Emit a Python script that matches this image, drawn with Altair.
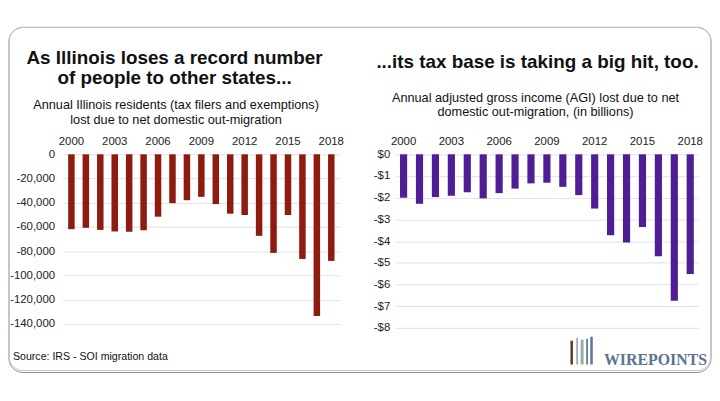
import altair as alt
import pandas as pd

# ---- data ----
years = list(range(2000, 2019))
residents_lost = [-61800, -60700, -62400, -63700, -64000, -62700, -51500, -40300,
                  -37900, -35100, -41100, -49000, -50100, -67300, -81400, -50100,
                  -86400, -133500, -88000]
agi_lost = [-2.00, -2.28, -1.97, -1.91, -1.75, -2.03, -1.79, -1.58, -1.34, -1.31,
            -1.50, -1.88, -2.50, -3.73, -4.07, -3.35, -4.70, -6.75, -5.52]
year_ticks = [2000, 2003, 2006, 2009, 2012, 2015, 2018]
resident_ticks = list(range(-140000, 1, 20000))
agi_ticks = list(range(-8, 1))

left_title = ["As Illinois loses a record number", "of people to other states..."]
left_sub = ["Annual Illinois residents (tax filers and exemptions)",
            "lost due to net domestic out-migration"]
right_title = "...its tax base is taking a big hit, too."
right_sub = ["Annual adjusted gross income (AGI) lost due to net",
             "domestic out-migration, (in billions)"]
source_text = "Source: IRS - SOI migration data"
logo_text = "WIREPOINTS"

df_l = pd.DataFrame({"year": years, "value": residents_lost})
df_r = pd.DataFrame({"year": years, "value": agi_lost})

FONT = "Liberation Sans"
LW, LH = 280, 171
RW, RH = 305, 175
one = alt.Data(values=[{}])


def txt(s, x, y, size, weight="normal", align="center", color="#111", font=FONT):
    return alt.Chart(one).mark_text(
        font=font, fontSize=size, fontWeight=weight, align=align,
        baseline="alphabetic", color=color
    ).encode(x=alt.value(x), y=alt.value(y), text=alt.value(s))


def xaxis():
    return alt.Axis(orient="top", values=year_ticks, labelAngle=0, domain=False,
                    ticks=False, labelPadding=8, labelFontSize=11.5, labelColor="#222",
                    labelFont=FONT, title=None, grid=False)


def yaxis(values, expr, pad):
    return alt.Axis(values=values, labelExpr=expr, domain=False, ticks=False,
                    gridColor="#e2e2e2", labelPadding=pad, labelFontSize=11.5,
                    labelColor="#222", labelFont=FONT, title=None)


shadow = alt.Chart(one).mark_rect(
    fillOpacity=0, stroke="#8f8f8f", strokeWidth=1, cornerRadius=14
).encode(x=alt.value(-54), x2=alt.value(654), y=alt.value(-128), y2=alt.value(220))
border = alt.Chart(one).mark_rect(
    fillOpacity=0, stroke="#c4c4c4", strokeWidth=1, cornerRadius=14
).encode(x=alt.value(-54), x2=alt.value(654), y=alt.value(-128), y2=alt.value(218))

left_bars = alt.Chart(df_l).mark_bar(color="#8e1b10").encode(
    x=alt.X("year:O", scale=alt.Scale(paddingInner=0.55, paddingOuter=0.39), axis=xaxis()),
    y=alt.Y("value:Q", scale=alt.Scale(domain=[-140000, 0], nice=False),
            axis=yaxis(resident_ticks,
                       "datum.value == 0 ? '0' : '-' + format(-datum.value, ',')", 8)),
)

left = alt.layer(
    shadow, border, left_bars,
    txt(left_title[0], 113, -91.5, 19, "bold"),
    txt(left_title[1], 113, -70.5, 19, "bold"),
    txt(left_sub[0], 114.5, -45.5, 12.8),
    txt(left_sub[1], 114.5, -31, 12.8),
    txt(source_text, -50, 207, 10.7, align="left"),
).properties(width=LW, height=LH)

right_bars = alt.Chart(df_r).mark_bar(color="#4e1f94").encode(
    x=alt.X("year:O", scale=alt.Scale(paddingInner=0.55, paddingOuter=0.27), axis=xaxis()),
    y=alt.Y("value:Q", scale=alt.Scale(domain=[-8, 0], nice=False),
            axis=yaxis(agi_ticks,
                       "datum.value == 0 ? '$0' : '-$' + format(-datum.value, 'd')", 6)),
)


def logo_rule(x, y1, color, w):
    return alt.Chart(one).mark_rule(color=color, strokeWidth=w).encode(
        x=alt.value(x), y=alt.value(y1), y2=alt.value(212))


right = alt.layer(
    right_bars,
    txt(right_title, 143, -87, 19, "bold"),
    txt(right_sub[0], 141, -53, 12.8),
    txt(right_sub[1], 141, -39, 12.8),
    logo_rule(177.5, 188, "#5a3a22", 2.5),
    logo_rule(183, 185, "#8a9bb5", 1.5),
    logo_rule(188, 187, "#9bb09a", 3),
    logo_rule(193, 186, "#6d84a8", 2),
    logo_rule(197.5, 184, "#5c739a", 2.5),
    txt(logo_text, 210, 212, 16, "bold", align="left", color="#5d7294",
        font="Liberation Serif"),
).properties(width=RW, height=RH)

chart = alt.HConcatChart(
    hconcat=[left, right], spacing=56, bounds="flush",
    padding={"left": 0, "top": 17, "right": 0, "bottom": 0},
    background="white",
).configure_view(stroke=None)

chart.save("out.html", embed_options={"renderer": "svg", "actions": False})
